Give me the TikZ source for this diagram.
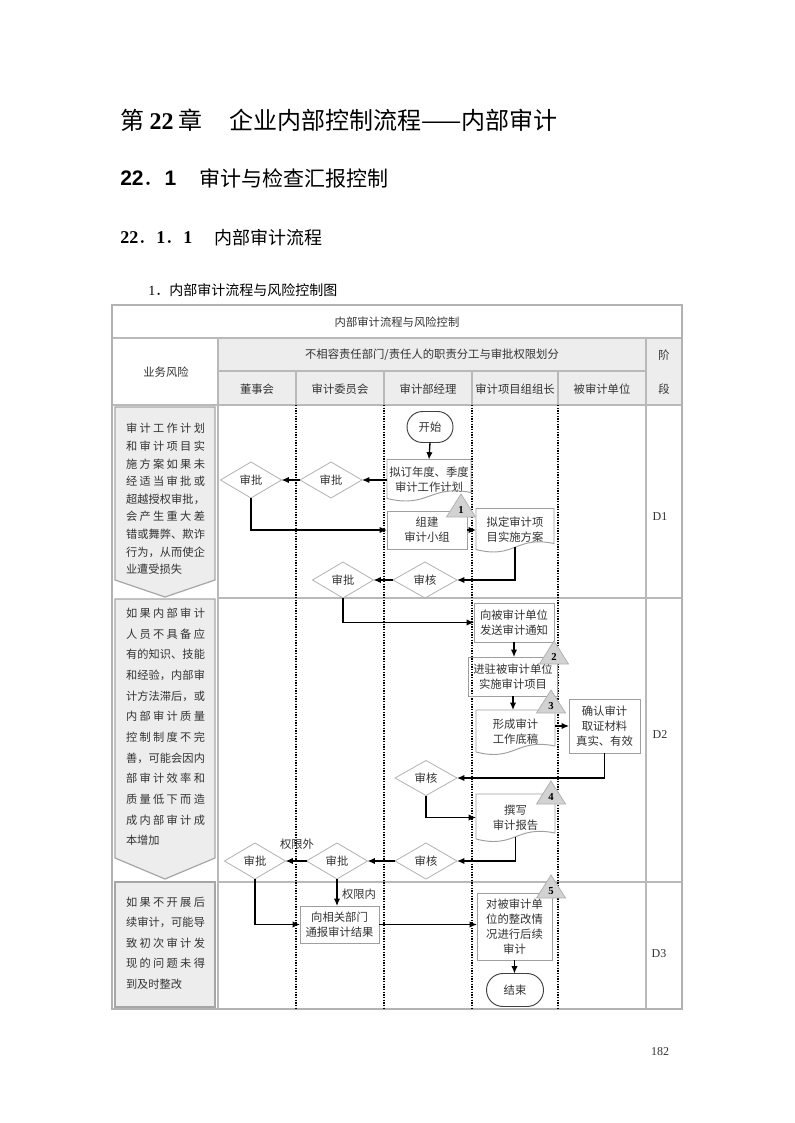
\documentclass[tikz,border=0pt]{standalone}
\usepackage{fontspec}
\setmainfont{Liberation Serif}
\newfontfamily\zh{Noto Sans CJK SC}
\newfontfamily\hei{Liberation Sans}
\usetikzlibrary{
  arrows.meta,      % 箭头
  calc,             % 坐标计算
  shapes.geometric, % 菱形
  shapes.misc       % 圆角矩形（开始/结束）
}

% 两端对齐的一行汉字
\makeatletter
\def\jline#1{\hbox to\hsize{\jl@a#1\jl@end}}
\def\jl@end{\jl@end}
\def\jl@a#1{#1\jl@b}
\def\jl@b#1{\ifx#1\jl@end\else\hfil#1\expandafter\jl@b\fi}
\makeatother
\newcommand\risklines[2]{\vbox{\hsize=59.25pt\baselineskip=#1\relax #2}}

\tikzset{
  grid line/.style={draw=gray!55, line width=0.9pt},
  lane/.style={line width=1.2pt, dash pattern=on 1pt off 1pt},
  head cell/.style={fill=gray!14},
  riskbox/.style={fill=gray!14, draw=gray!70, line width=0.9pt},
  risktext/.style={font=\zh\fontsize{8.4}{13}\selectfont, text=black!80, inner sep=0pt},
  headtext/.style={font=\zh\fontsize{8.5}{10}\selectfont, text=black!80, inner sep=0pt},
  flowtext/.style={font=\zh\fontsize{8.5}{11.3}\selectfont, text=black!80,
    align=center, inner sep=0pt, outer sep=0pt},
  flowbox/.style 2 args={flowtext, rectangle, draw=gray!75, line width=0.7pt,
    minimum width=#1*0.75pt, minimum height=#2*0.75pt},
  docnode/.style 2 args={flowtext, rectangle,
    minimum width=#1*0.75pt, minimum height=#2*0.75pt},
  decision/.style 2 args={flowtext, diamond, draw=gray!60, line width=0.6pt,
    minimum width=#1*0.75pt, minimum height=#2*0.75pt},
  terminal/.style 2 args={flowtext, rounded rectangle, draw=black!75, line width=0.7pt,
    minimum width=#1*0.75pt, minimum height=#2*0.75pt},
  conn/.style={-{Latex[length=5.5pt,width=4.8pt]}, line width=1pt, black},
  keypoint/.style={fill=gray!35, draw=gray!60, line width=0.6pt},
  keynum/.style={font=\bfseries\fontsize{8}{8}\selectfont, inner sep=0pt},
  stage/.style={font=\fontsize{9}{10}\selectfont, text=black!80, inner sep=0pt}
}

% 文档框（波浪底边）
\newcommand\docframe[1]{%
  \draw[draw=gray!75, line width=0.7pt] (#1.north west) -- (#1.north east)
    -- ([yshift=6pt]#1.south east)
    .. controls ([yshift=12pt]#1.south) and ([yshift=-6pt]#1.south) ..
    ([yshift=1.5pt]#1.south west) -- cycle;}
% 关键控制点三角
\newcommand\keypoint[4]{%
  \draw[keypoint] (#2,#3) -- ++(14.5,23) -- ++(-29,0) -- cycle;
  \node[keynum] (#1) at (#2,#3+16) {#4};}

\begin{document}
\begin{tikzpicture}[x=0.75pt, y=-0.75pt]
  \useasboundingbox (0,0) rectangle (794,1123);
  \fill[white] (0,0) rectangle (794,1123);

  % --- 标题 ---
  \node[anchor=west, inner sep=0pt, font=\fontsize{18}{20}\selectfont] (h1a) at (120,120)
    {{\zh 第}\hspace{4pt}{\bfseries 22}\hspace{4pt}{\zh 章}};
  \node[anchor=west, inner sep=0pt, font=\zh\fontsize{18}{20}\selectfont] (h1b) at (229,120)
    {企业内部控制流程——内部审计};
  \node[anchor=west, inner sep=0pt, font=\fontsize{15.75}{18}\selectfont] (h2a) at (120,178)
    {{\hei\bfseries 22}{\zh ．}{\hei\bfseries 1}};
  \node[anchor=west, inner sep=0pt, font=\zh\fontsize{15.75}{18}\selectfont] (h2b) at (199,178)
    {审计与检查汇报控制};
  \node[anchor=west, inner sep=0pt, font=\fontsize{13.5}{16}\selectfont] (h3a) at (120,238)
    {{\bfseries 22}{\zh ．}{\bfseries 1}{\zh ．}{\bfseries 1}};
  \node[anchor=west, inner sep=0pt, font=\zh\fontsize{13.5}{16}\selectfont] (h3b) at (214,238)
    {内部审计流程};
  \node[anchor=west, inner sep=0pt, font=\fontsize{10.5}{12}\selectfont] (h4) at (148,290)
    {1{\zh ．内部审计流程与风险控制图}};

  % --- 表格 ---
  \fill[head cell] (218,338) rectangle (682,405);
  \draw[grid line] (112,338) -- (682,338);
  \draw[grid line] (218,371) -- (646,371);
  \draw[grid line] (112,405) -- (682,405);
  \draw[grid line] (218,338) -- (218,1009);
  \draw[grid line] (646,338) -- (646,1009);
  \draw[grid line] (296,371) -- (296,405);
  \draw[grid line] (384,371) -- (384,405);
  \draw[grid line] (472,371) -- (472,405);
  \draw[grid line] (558,371) -- (558,405);
  \draw[grid line] (218,598) -- (682,598);
  \draw[grid line] (218,882) -- (682,882);
  \draw[draw=gray!60, line width=1.5pt] (112,305) rectangle (682,1009);
  % 泳道分隔（虚线）
  \foreach \lx in {296,384,472,558}
    \draw[lane] (\lx,405) -- (\lx,1009);

  \node[headtext] (tt) at (397,322) {内部审计流程与风险控制};
  \node[headtext] (ywfx) at (166,372) {业务风险};
  \node[headtext] (bxr) at (432,355) {不相容责任部门/责任人的职责分工与审批权限划分};
  \node[headtext] (dsh) at (257,389) {董事会};
  \node[headtext] (sjwyh) at (340,389) {审计委员会};
  \node[headtext] (sjbjl) at (428,389) {审计部经理};
  \node[headtext] (xmzz) at (515,389) {审计项目组组长};
  \node[headtext] (bsjdw) at (602,389) {被审计单位};
  \node[headtext] (jie) at (664,355) {阶};
  \node[headtext] (duan) at (664,389) {段};

  % --- 业务风险 ---
  \path[riskbox] (115,407) -- (215,407) -- (215,580) -- (165,597) -- (115,580) -- cycle;
  \path[riskbox] (115,599) -- (215,599) -- (215,858) -- (165,879) -- (115,858) -- cycle;
  \path[riskbox] (115,882) rectangle (215,1007);

  \node[risktext] (fx1) at (165.5,499) {\risklines{13.2pt}{%
    \jline{审计工作计划}\jline{和审计项目实}\jline{施方案如果未}%
    \jline{经适当审批或}\jline{超越授权审批，}\jline{会产生重大差}%
    \jline{错或舞弊、欺诈}\jline{行为，从而使企}\hbox{业遭受损失}}};
  \node[risktext] (fx2) at (165.5,727) {\risklines{15.5pt}{%
    \jline{如果内部审计}\jline{人员不具备应}\jline{有的知识、技能}%
    \jline{和经验，内部审}\jline{计方法滞后，或}\jline{内部审计质量}%
    \jline{控制制度不完}\jline{善，可能会因内}\jline{部审计效率和}%
    \jline{质量低下而造}\jline{成内部审计成}\hbox{本增加}}};
  \node[risktext] (fx3) at (165.5,943) {\risklines{15.4pt}{%
    \jline{如果不开展后}\jline{续审计，可能导}\jline{致初次审计发}%
    \jline{现的问题未得}\hbox{到及时整改}}};

  % --- D1 ---
  \node[terminal={46}{31}] (ks) at (430,427) {开始};
  \node[docnode={84}{41}] (nd1) at (429,480) {拟订年度、季度\\审计工作计划};
  \docframe{nd1}
  \node[decision={61}{36}] (sp1) at (251,480) {审批};
  \node[decision={62}{36}] (sp2) at (331,480) {审批};
  \node[flowbox={80}{38}] (zj) at (427,530) {组建\\审计小组};
  \node[docnode={78}{43}] (nd2) at (515,530) {拟定审计项\\目实施方案};
  \docframe{nd2}
  \node[decision={64}{36}] (sh1) at (425,580) {审核};
  \node[decision={61}{36}] (sp3) at (343,580) {审批};

  \draw[conn] (ks.south) -- (nd1.north);
  \draw[conn] (nd1.west) -- (sp2.east);
  \draw[conn] (sp2.west) -- (sp1.east);
  \draw[conn] (sp1.south) |- (zj.west);
  \draw[conn] (zj.east) -- (nd2.west);
  \draw[conn] ([yshift=3.2pt]nd2.south) |- (sh1.east);
  \draw[conn] (sh1.west) -- (sp3.east);

  % --- D2 ---
  \node[flowbox={80}{39}] (tz) at (514,622.5) {向被审计单位\\发送审计通知};
  \node[flowbox={89}{39}] (jz) at (513,676.5) {进驻被审计单位\\实施审计项目};
  \node[docnode={79}{44}] (dg) at (515.5,732) {形成审计\\工作底稿};
  \docframe{dg}
  \node[flowbox={71}{54}] (qr) at (604.5,726) {确认审计\\取证材料\\真实、有效};
  \node[decision={62}{35}] (sh2) at (426,778) {审核};
  \node[docnode={79}{47}] (bg) at (515.5,817.5) {撰写\\审计报告};
  \docframe{bg}
  \node[decision={62}{36}] (sh3) at (426,861) {审核};
  \node[decision={61}{36}] (sp4) at (337,861) {审批};
  \node[decision={61}{36}] (sp5) at (255,861) {审批};
  \node[flowtext] (qxw) at (297,844) {权限外};

  \draw[conn] (sp3.south) |- (tz.west);
  \draw[conn] (tz.south) -- (tz.south |- jz.north);
  \draw[conn] (jz.south) -- (jz.south |- dg.north);
  \draw[conn] (dg.east |- qr.west) -- (qr.west);
  \draw[conn] (qr.south) |- (sh2.east);
  \draw[conn] (sh2.south) |- (bg.west);
  \draw[conn] ([yshift=3.2pt]bg.south) |- (sh3.east);
  \draw[conn] (sh3.west) -- (sp4.east);
  \draw[conn] (sp4.west) -- (sp5.east);

  % --- D3 ---
  \node[flowbox={79}{37}] (tb) at (339.5,924.5) {向相关部门\\通报审计结果};
  \node[flowbox={75}{67}] (hx) at (514.5,926.5) {对被审计单\\位的整改情\\况进行后续\\审计};
  \node[terminal={57}{33}] (js) at (515,990) {结束};
  \node[flowtext] (qxn) at (359,894) {权限内};

  \draw[conn] (sp4.south) -- (sp4.south |- tb.north);
  \draw[conn] (sp5.south) |- (tb.west);
  \draw[conn] (tb.east) -- (tb.east -| hx.west);
  \draw[conn] (hx.south) -- (hx.south |- js.north);

  % --- 关键控制点 ---
  \keypoint{k1}{461}{494}{1}
  \keypoint{k2}{554}{641}{2}
  \keypoint{k3}{551}{690}{3}
  \keypoint{k4}{551}{781}{4}
  \keypoint{k5}{551}{875}{5}

  % --- 阶段 ---
  \node[stage] (d1) at (660,517) {D1};
  \node[stage] (d2) at (660,735) {D2};
  \node[stage] (d3) at (659,954) {D3};

  % 页码
  \node[inner sep=0pt, font=\fontsize{9}{10}\selectfont, text=black!80] (pg) at (660,1052) {182};
\end{tikzpicture}
\end{document}
